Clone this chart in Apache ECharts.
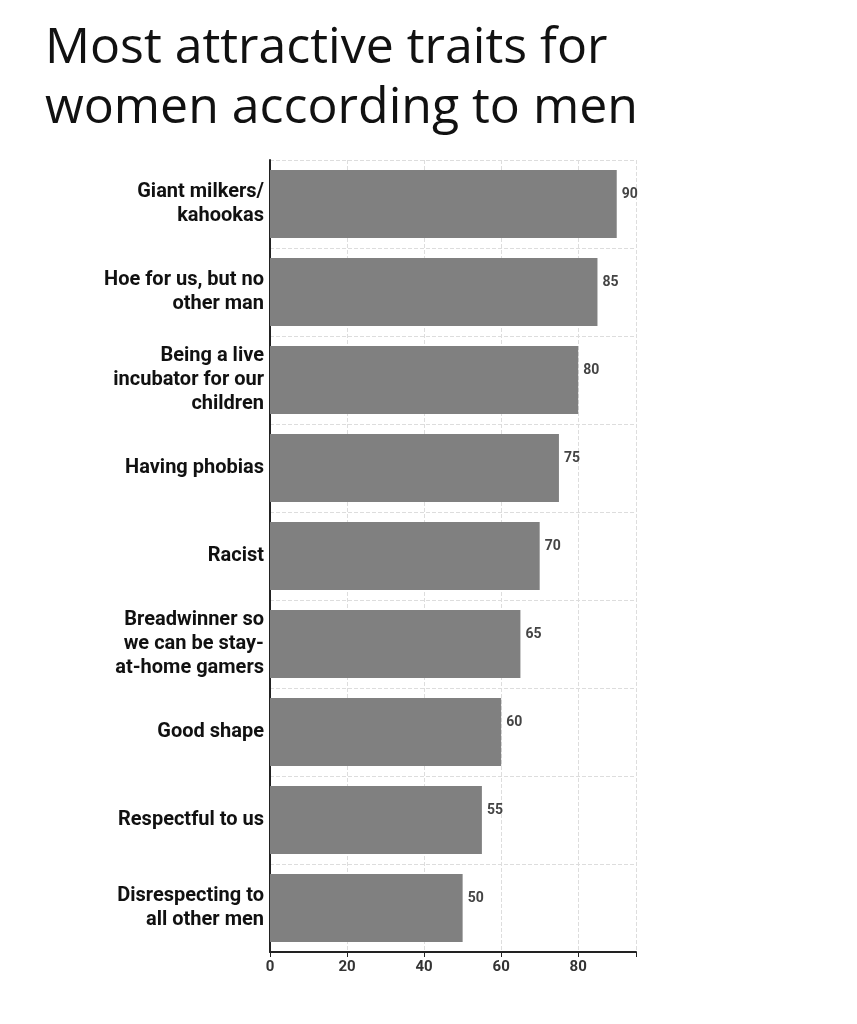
<!DOCTYPE html>
<html><head><meta charset="utf-8">
<script src="https://cdn.jsdelivr.net/npm/echarts@6/dist/echarts.min.js"></script>
<style>html,body{margin:0;padding:0;background:#fff}#c{width:857px;height:1024px}</style>
</head><body><div id="c"></div>
<script>
const categories = ["Giant milkers/\nkahookas","Hoe for us, but no\nother man","Being a live\nincubator for our\nchildren","Having phobias","Racist","Breadwinner so\nwe can be stay-\nat-home gamers","Good shape","Respectful to us","Disrespecting to\nall other men"];
const values = [90,85,80,75,70,65,60,55,50];
const xTicks = [0,20,40,60,80];
const chart = echarts.init(document.getElementById('c'));
chart.setOption({
  backgroundColor:'#fff',
  title:{text:'Most attractive traits for\nwomen according to men',left:40,top:14,
    textStyle:{fontFamily:'Open Sans',fontSize:50,fontWeight:'normal',color:'#111',lineHeight:60}},
  grid:{left:270,right:221,top:160,bottom:72},
  xAxis:{type:'value',min:0,max:95,interval:20,
    axisLine:{show:true,lineStyle:{color:'#222',width:2}},
    axisTick:{show:true,lineStyle:{color:'#222'}},
    axisLabel:{formatter:v=>xTicks.includes(v)?String(v):'',fontSize:15,fontWeight:'bold',color:'#333',fontFamily:'Roboto'},
    splitLine:{show:true,lineStyle:{type:'dashed',color:'#ddd'}}},
  yAxis:{type:'category',data:categories,inverse:true,
    axisLine:{lineStyle:{color:'#222',width:2}},axisTick:{show:false},
    axisLabel:{fontSize:20,fontWeight:'bold',color:'#111',fontFamily:'Roboto',lineHeight:24,align:'right',margin:6},
    splitLine:{show:true,lineStyle:{type:'dashed',color:'#ddd'}}},
  series:[{type:'bar',data:values,barWidth:'77%',itemStyle:{color:'#808080'},
    label:{show:true,position:'right',offset:[0,-10],fontSize:14,fontWeight:'bold',color:'#444',fontFamily:'Roboto'}}]
});
</script></body></html>
